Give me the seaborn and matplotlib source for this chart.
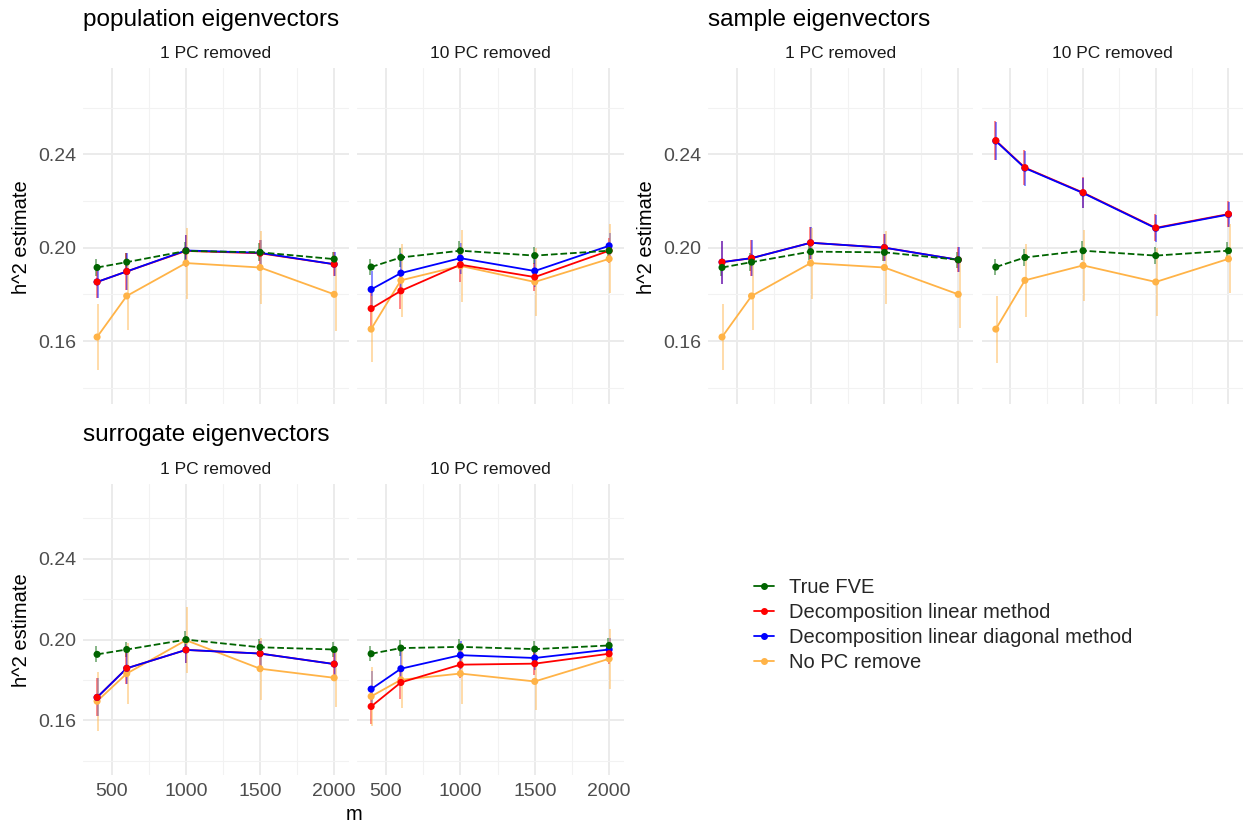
import matplotlib
matplotlib.use("Agg")
import matplotlib.pyplot as plt
from matplotlib.lines import Line2D
import numpy as np
import pandas as pd
import seaborn as sns

# ---------------- data ----------------
m = [400, 600, 1000, 1500, 2000]
series_names = ["True FVE", "Decomposition linear method",
                "Decomposition linear diagonal method", "No PC remove"]
colors = ["#006400", "#FF0000", "#0000FF", "#FFB347"]

# population eigenvectors, 1 PC removed
pop1_true = [0.1915, 0.1938, 0.1986, 0.1980, 0.1951]
pop1_true_err = [0.0035, 0.0039, 0.0037, 0.0039, 0.0032]
pop1_lin = [0.1853, 0.1898, 0.1986, 0.1976, 0.1929]
pop1_lin_err = [0.0067, 0.0079, 0.0067, 0.0056, 0.0052]
pop1_diag = [0.1853, 0.1898, 0.1988, 0.1978, 0.1929]
pop1_diag_err = [0.0070, 0.0079, 0.0067, 0.0057, 0.0052]
pop1_nopc = [0.1617, 0.1793, 0.1934, 0.1915, 0.1800]
pop1_nopc_err = [0.0141, 0.0146, 0.0152, 0.0157, 0.0157]

# population eigenvectors, 10 PC removed
pop10_true = [0.1917, 0.1958, 0.1987, 0.1966, 0.1987]
pop10_true_err = [0.0035, 0.0039, 0.0040, 0.0037, 0.0032]
pop10_lin = [0.1739, 0.1815, 0.1927, 0.1874, 0.1987]
pop10_lin_err = [0.0080, 0.0078, 0.0074, 0.0060, 0.0053]
pop10_diag = [0.1821, 0.1891, 0.1955, 0.1900, 0.2008]
pop10_diag_err = [0.0081, 0.0085, 0.0067, 0.0067, 0.0053]
pop10_nopc = [0.1651, 0.1860, 0.1922, 0.1853, 0.1952]
pop10_nopc_err = [0.0141, 0.0157, 0.0153, 0.0145, 0.0148]

# sample eigenvectors, 1 PC removed
samp1_true = [0.1915, 0.1938, 0.1983, 0.1980, 0.1948]
samp1_true_err = [0.0035, 0.0038, 0.0037, 0.0037, 0.0033]
samp1_lin = [0.1938, 0.1955, 0.2021, 0.2000, 0.1948]
samp1_lin_err = [0.0092, 0.0078, 0.0068, 0.0058, 0.0053]
samp1_diag = [0.1938, 0.1955, 0.2021, 0.2000, 0.1948]
samp1_diag_err = [0.0092, 0.0078, 0.0068, 0.0058, 0.0053]
samp1_nopc = [0.1617, 0.1793, 0.1934, 0.1915, 0.1800]
samp1_nopc_err = [0.0141, 0.0146, 0.0152, 0.0157, 0.0143]

# sample eigenvectors, 10 PC removed
samp10_true = [0.1917, 0.1958, 0.1987, 0.1966, 0.1987]
samp10_true_err = [0.0036, 0.0037, 0.0040, 0.0037, 0.0036]
samp10_lin = [0.2459, 0.2343, 0.2236, 0.2085, 0.2144]
samp10_lin_err = [0.0083, 0.0075, 0.0066, 0.0058, 0.0054]
samp10_diag = [0.2457, 0.2341, 0.2234, 0.2083, 0.2142]
samp10_diag_err = [0.0083, 0.0075, 0.0066, 0.0058, 0.0054]
samp10_nopc = [0.1651, 0.1860, 0.1924, 0.1853, 0.1952]
samp10_nopc_err = [0.0144, 0.0157, 0.0153, 0.0145, 0.0148]

# surrogate eigenvectors, 1 PC removed
sur1_true = [0.1927, 0.1951, 0.2000, 0.1962, 0.1951]
sur1_true_err = [0.0039, 0.0038, 0.0041, 0.0041, 0.0039]
sur1_lin = [0.1714, 0.1858, 0.1949, 0.1931, 0.1879]
sur1_lin_err = [0.0094, 0.0078, 0.0067, 0.0061, 0.0056]
sur1_diag = [0.1714, 0.1858, 0.1949, 0.1931, 0.1879]
sur1_diag_err = [0.0094, 0.0078, 0.0067, 0.0061, 0.0056]
sur1_nopc = [0.1695, 0.1832, 0.1997, 0.1856, 0.1811]
sur1_nopc_err = [0.0145, 0.0149, 0.0162, 0.0153, 0.0145]

# surrogate eigenvectors, 10 PC removed
sur10_true = [0.1930, 0.1958, 0.1964, 0.1953, 0.1971]
sur10_true_err = [0.0038, 0.0039, 0.0040, 0.0039, 0.0037]
sur10_lin = [0.1669, 0.1788, 0.1876, 0.1881, 0.1930]
sur10_lin_err = [0.0088, 0.0080, 0.0068, 0.0057, 0.0053]
sur10_diag = [0.1755, 0.1856, 0.1923, 0.1909, 0.1951]
sur10_diag_err = [0.0091, 0.0086, 0.0069, 0.0057, 0.0057]
sur10_nopc = [0.1719, 0.1801, 0.1832, 0.1793, 0.1905]
sur10_nopc_err = [0.0147, 0.0141, 0.0151, 0.0141, 0.0147]

group_titles = ["population eigenvectors", "sample eigenvectors", "surrogate eigenvectors"]
facet_labels = ["1 PC removed", "10 PC removed"]
y_ticks = [0.16, 0.20, 0.24]
x_ticks = [500, 1000, 1500, 2000]

# ---------------- style ----------------
sns.set_theme(style="white")
plt.rcParams["font.family"] = ["Liberation Sans", "DejaVu Sans"]

W, H = 1243, 825
fig = plt.figure(figsize=(W / 100, H / 100), dpi=100)


def px_axes(x0, y0, x1, y1):
    return fig.add_axes([x0 / W, 1 - y1 / H, (x1 - x0) / W, (y1 - y0) / H])


def build_df(vals, errs):
    rows = []
    for name, v, e in zip(series_names, vals, errs):
        for xi, vi, ei in zip(m, v, e):
            rows.append({"m": xi, "est": vi, "err": ei, "method": name})
    return pd.DataFrame(rows)


panels = [
    (83, 68, 349, 404, [pop1_true, pop1_lin, pop1_diag, pop1_nopc],
     [pop1_true_err, pop1_lin_err, pop1_diag_err, pop1_nopc_err], True, False, 0),
    (357, 68, 624, 404, [pop10_true, pop10_lin, pop10_diag, pop10_nopc],
     [pop10_true_err, pop10_lin_err, pop10_diag_err, pop10_nopc_err], False, False, 1),
    (708, 68, 973, 404, [samp1_true, samp1_lin, samp1_diag, samp1_nopc],
     [samp1_true_err, samp1_lin_err, samp1_diag_err, samp1_nopc_err], True, False, 0),
    (982, 68, 1243, 404, [samp10_true, samp10_lin, samp10_diag, samp10_nopc],
     [samp10_true_err, samp10_lin_err, samp10_diag_err, samp10_nopc_err], False, False, 1),
    (83, 484, 349, 775, [sur1_true, sur1_lin, sur1_diag, sur1_nopc],
     [sur1_true_err, sur1_lin_err, sur1_diag_err, sur1_nopc_err], True, True, 0),
    (357, 484, 624, 775, [sur10_true, sur10_lin, sur10_diag, sur10_nopc],
     [sur10_true_err, sur10_lin_err, sur10_diag_err, sur10_nopc_err], False, True, 1),
]

err_offsets = {series_names[0]: -8, series_names[1]: -3,
               series_names[2]: 3, series_names[3]: 9}
line_order = [3, 1, 2, 0]
point_order = [3, 2, 1, 0]

for (x0, y0, x1, y1, vals, errs, show_y, show_x, fi) in panels:
    ax = px_axes(x0, y0, x1, y1)
    df = build_df(vals, errs)
    ax.set_xlim(305, 2100)
    ax.set_ylim(0.133, 0.277)
    # grid
    for xv in x_ticks:
        ax.axvline(xv, color="#EBEBEB", lw=1.4, zorder=0)
    for xv in [750, 1250, 1750]:
        ax.axvline(xv, color="#F2F2F2", lw=0.8, zorder=0)
    for yv in y_ticks:
        ax.axhline(yv, color="#EBEBEB", lw=1.4, zorder=0)
    for yv in [0.14, 0.18, 0.22, 0.26]:
        ax.axhline(yv, color="#F2F2F2", lw=0.8, zorder=0)
    # error bars
    for i, name in enumerate(series_names):
        d = df[df.method == name]
        ax.vlines(d.m + err_offsets[name], d.est - d.err, d.est + d.err,
                  color=colors[i], alpha=0.5, lw=1.3, zorder=2)
    # lines
    for i in line_order:
        d = df[df.method == series_names[i]]
        sns.lineplot(data=d, x="m", y="est", color=colors[i], lw=1.3,
                     linestyle="--" if i == 0 else "-",
                     dashes=(4, 2.5) if i == 0 else None, ax=ax,
                     legend=False, zorder=3, estimator=None)
    # points
    for i in point_order:
        d = df[df.method == series_names[i]]
        sns.scatterplot(data=d, x="m", y="est", color=colors[i], s=26,
                        edgecolor="none", ax=ax, legend=False, zorder=4)
    for s in ax.spines.values():
        s.set_visible(False)
    ax.set_xlabel("")
    ax.set_ylabel("")
    ax.set_xticks(x_ticks)
    ax.set_yticks(y_ticks)
    ax.tick_params(length=0, labelsize=14, colors="#4D4D4D", pad=5)
    if show_y:
        ax.set_yticklabels(["0.16", "0.20", "0.24"])
    else:
        ax.set_yticklabels([])
    if show_x:
        ax.set_xticklabels([str(v) for v in x_ticks])
        ax.tick_params(axis="x", pad=6)
    else:
        ax.set_xticklabels([])
    ax.grid(False)
    # strip label
    fig.text(((x0 + x1) / 2) / W, 1 - (y0 - 14) / H, facet_labels[fi],
             ha="center", va="center", fontsize=12.5, color="#1A1A1A")

# group titles
fig.text(83 / W, 1 - 26 / H, group_titles[0], ha="left", va="baseline",
         fontsize=17.5, color="black")
fig.text(708 / W, 1 - 26 / H, group_titles[1], ha="left", va="baseline",
         fontsize=17.5, color="black")
fig.text(83 / W, 1 - 441 / H, group_titles[2], ha="left", va="baseline",
         fontsize=17.5, color="black")

# y labels
for (xc, yc) in [(22, 237), (647, 237), (22, 630)]:
    fig.text(xc / W, 1 - yc / H, "h^2 estimate", rotation=90, ha="center",
             va="center", fontsize=14.5, color="black")

# x label
fig.text(354 / W, 1 - 814 / H, "m", ha="center", va="center", fontsize=14.5,
         color="black")

# legend
handles = []
for i, name in enumerate(series_names):
    handles.append(Line2D([0], [0], color=colors[i], lw=1.3, marker="o",
                          markersize=4))
fig.legend(handles, series_names, loc="upper left",
           bbox_to_anchor=(754 / W, 1 - 578 / H), frameon=False,
           fontsize=14.5, handlelength=1.0, handletextpad=0.75,
           labelspacing=0.30, borderaxespad=0, borderpad=0)

fig.savefig("out.png", dpi=100)
